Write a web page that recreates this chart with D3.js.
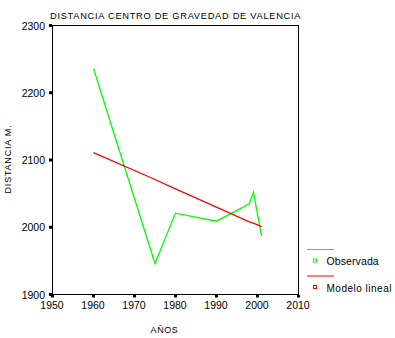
<!DOCTYPE html>
<html>
<head>
<meta charset="utf-8">
<script src="https://cdn.jsdelivr.net/npm/d3@7"></script>
<style>
  html, body { margin: 0; padding: 0; background: #fff; }
  svg { display: block; font-family: "Liberation Sans", Arial, sans-serif; }
</style>
</head>
<body>
<svg id="chart" width="395" height="338"></svg>
<script>
// Observed centre-of-gravity distance (m) per year, and the fitted linear model
const years = [1960, 1975, 1980, 1990, 1998, 1999, 2001];
const observada = [2236, 1946, 2021, 2009, 2035, 2052, 1987];
const modeloLineal = [2111, 2071, 2057, 2030, 2008, 2006, 2001];

const xTicks = [1950, 1960, 1970, 1980, 1990, 2000, 2010];
const yTicks = [1900, 2000, 2100, 2200, 2300];

const titleText = "DISTANCIA CENTRO DE GRAVEDAD DE VALENCIA";
const xTitle = "AÑOS";
const yTitle = "DISTANCIA M.";
const legendLabels = ["Observada", "Modelo lineal"];
const seriesColors = ["#00ff00", "#ff0000"];

const svg = d3.select("#chart");

const x = d3.scaleLinear().domain([1950, 2010]).range([52.5, 298.5]);
const y = d3.scaleLinear().domain([1900, 2300]).range([294.5, 25.5]);

// Plot frame
const frame = svg.append("g").attr("fill", "none").attr("stroke", "#000").attr("stroke-width", 1);
frame.append("rect")
  .attr("x", x(1950)).attr("y", y(2300))
  .attr("width", x(2010) - x(1950)).attr("height", y(1900) - y(2300));

// Y axis: square tick marks and labels
const yAxis = svg.append("g");
yAxis.selectAll("rect").data(yTicks).join("rect")
  .attr("x", x(1950) - 3.5).attr("y", d => y(d) - 1.5)
  .attr("width", 3).attr("height", 3).attr("fill", "#000");
yAxis.selectAll("text").data(yTicks).join("text")
  .attr("x", 45).attr("y", d => y(d) + 4)
  .attr("text-anchor", "end").attr("font-size", 10.5).attr("fill", "#000")
  .text(d => d);

// X axis: square tick marks and labels
const xAxis = svg.append("g");
xAxis.selectAll("rect").data(xTicks).join("rect")
  .attr("x", d => x(d) - 1.5).attr("y", y(1900) + 0.5)
  .attr("width", 3).attr("height", 2.5).attr("fill", "#000");
xAxis.selectAll("text").data(xTicks).join("text")
  .attr("x", d => x(d) - 0.5).attr("y", 308.5)
  .attr("text-anchor", "middle").attr("font-size", 10.5).attr("fill", "#000")
  .text(d => d);

// Titles
svg.append("text")
  .attr("x", 50).attr("y", 18.5)
  .attr("font-size", 9.3).attr("letter-spacing", 0.7).attr("fill", "#000")
  .text(titleText);

svg.append("text")
  .attr("x", 164.5).attr("y", 333)
  .attr("text-anchor", "middle").attr("font-size", 9).attr("letter-spacing", 0.6).attr("fill", "#000")
  .text(xTitle);

svg.append("text")
  .attr("transform", "translate(11,159) rotate(-90)")
  .attr("text-anchor", "middle").attr("font-size", 9).attr("letter-spacing", 0.8).attr("fill", "#000")
  .text(yTitle);

// Series lines
const line = d3.line().x(d => x(d[0])).y(d => y(d[1]));
[observada, modeloLineal].forEach((vals, i) => {
  svg.append("path")
    .datum(years.map((yr, k) => [yr, vals[k]]))
    .attr("d", line)
    .attr("fill", "none")
    .attr("stroke", seriesColors[i])
    .attr("stroke-width", 1.3);
});

// Legend: a line sample above each square marker and label
const legend = svg.append("g");
legendLabels.forEach((lab, i) => {
  const top = 249.5 + i * 26.5;
  legend.append("line")
    .attr("x1", 307).attr("x2", 334).attr("y1", top).attr("y2", top)
    .attr("stroke", seriesColors[i]).attr("stroke-width", 1);
  legend.append("rect")
    .attr("x", 313.5).attr("y", top + 9.5).attr("width", 3).attr("height", 3)
    .attr("fill", "#fff").attr("stroke", seriesColors[i]).attr("stroke-width", 1);
  legend.append("text")
    .attr("x", 326.5).attr("y", top + 15.5)
    .attr("font-size", i === 0 ? 10.5 : 10).attr("letter-spacing", i === 0 ? 0.1 : 0.5)
    .attr("fill", "#000")
    .text(lab);
});
</script>
</body>
</html>
